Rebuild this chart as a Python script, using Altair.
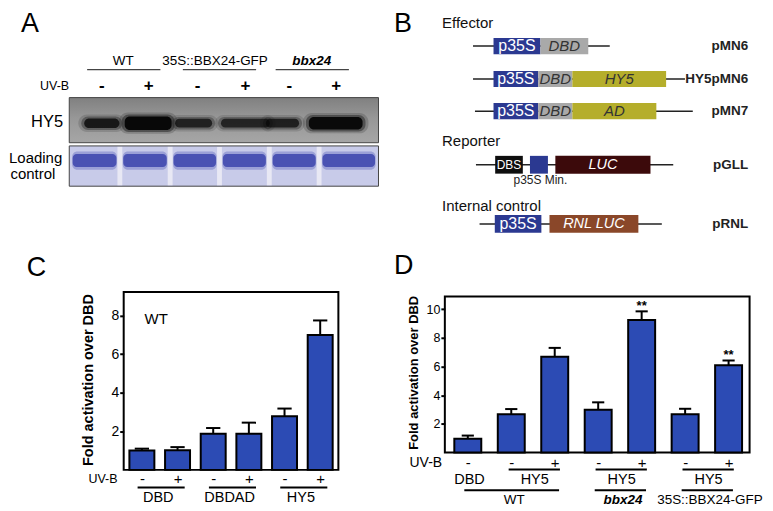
import altair as alt
import pandas as pd

FONT = "Liberation Sans"
SX = 757 / 773
SY = 495 / 511

# ===================== DATA =====================
# Panel A: western blot
blot_genotypes = ["WT", "35S::BBX24-GFP", "bbx24"]
blot_uvb = ["-", "+", "-", "+", "-", "+"]
blot_hy5_signal = [0.80, 1.00, 0.72, 0.70, 0.74, 0.97]
blot_row_labels = ["HY5", "Loading", "control"]

# Panel B: constructs
b_sections = ["Effector", "Reporter", "Internal control"]
b_plasmids = ["pMN6", "HY5pMN6", "pMN7", "pGLL", "pRNL"]
b_segments = [["p35S", "DBD"], ["p35S", "DBD", "HY5"], ["p35S", "DBD", "AD"],
              ["DBS", "", "LUC"], ["p35S", "RNL LUC"]]
b_note = "p35S Min."

# Panel C
c_effector = ["DBD", "DBD", "DBDAD", "DBDAD", "HY5", "HY5"]
c_uvb = ["-", "+", "-", "+", "-", "+"]
c_values = [1.00, 1.02, 1.87, 1.87, 2.78, 7.00]
c_errors = [0.10, 0.16, 0.30, 0.58, 0.40, 0.75]
c_note = "WT"

# Panel D
d_genotype = ["WT", "WT", "WT", "bbx24", "bbx24", "35S::BBX24-GFP", "35S::BBX24-GFP"]
d_effector = ["DBD", "HY5", "HY5", "HY5", "HY5", "HY5", "HY5"]
d_uvb = ["-", "-", "+", "-", "+", "-", "+"]
d_values = [0.96, 2.67, 6.68, 2.98, 9.25, 2.67, 6.08]
d_errors = [0.22, 0.36, 0.62, 0.52, 0.60, 0.38, 0.34]
d_sig = ["", "", "", "", "**", "", "**"]

# ===================== LAYOUT (reference pixel units) =====================
A_W = 390
# C frame (ref px)
C_L, C_R, C_T, C_B = 116.7, 336.5, 288.3, 472.5
C_XDOM = [0.49, 6.51]
C_YTOP = 9.23
# D frame (ref px)
D_L, D_R, D_T, D_B = 444, 756, 293, 454.5
D_XDOM = [0.472, 7.483]
D_YTOP = 10.89
TOP_H = C_T  # top row ends where the bottom plot areas begin

# A
a_header_x = [117, 211, 310]
a_header_y = 51.7
a_header_lines = [(80, 155), (178, 253), (273, 348)]
a_lane_x = [95, 143, 193, 242, 287, 335]
a_blot_box = (61.7, 90, 378.3, 136.7)
a_band_x = [95, 142.5, 189, 242, 280, 334.5]
a_band_hw = [18, 24, 19, 25, 17, 27.5]
a_band_hh = [5.0, 7.0, 4.5, 4.5, 4.5, 6.5]
a_band_y = 116.5
a_load_box = (61.7, 140, 378.3, 181.7)
a_load_sep = [113.5, 165, 215.5, 266.5, 317.5]
a_load_band = (148.3, 161.7)
# B
b_section_y = [13.3, 135, 201.7]
b_row_y = [36.7, 70.7, 104.0, 159.5, 220.8]
b_row_hh = [8.3, 8.3, 8.3, 9.2, 9.2]
b_backbone = [(475, 615), (475, 692), (477, 700), (478, 680), (481.7, 668.3)]
b_seg_x = [[(496, 544), (544, 593)],
           [(496, 541.7), (541.7, 576.7), (576.7, 672.7)],
           [(496, 541.7), (541.7, 576.7), (576.7, 662.7)],
           [(497.7, 526), (533.3, 551.7), (559.3, 656.7)],
           [(497.3, 545), (553.3, 644.3)]]
seg_fill = {"p35S": "#2b3991", "DBD": "#a9a9a9", "HY5": "#b5ae2b", "AD": "#b5ae2b",
            "DBS": "#0e0e0e", "": "#2b3991", "LUC": "#3c0a0b", "RNL LUC": "#8a4729"}

BLUE = "#2c4bb4"


def sc(lo, hi, rev=False):
    return alt.Scale(domain=[lo, hi], nice=False, zero=False, reverse=rev)


def tl(df, xs, ys, xa=None, ya=None, **mk):
    return alt.Chart(df).mark_text(**mk).encode(
        x=alt.X("x:Q", scale=xs, axis=xa), y=alt.Y("y:Q", scale=ys, axis=ya), text="t:N")


def rl(df, xs, ys, xa=None, ya=None, **mk):
    return alt.Chart(df).mark_rule(**mk).encode(
        x=alt.X("x0:Q", scale=xs, axis=xa), x2="x1:Q", y=alt.Y("y:Q", scale=ys, axis=ya))


def rect(df, xs, ys, xa=None, ya=None, **mk):
    enc = dict(x=alt.X("x0:Q", scale=xs, axis=xa), x2="x1:Q",
               y=alt.Y("y0:Q", scale=ys, axis=ya), y2="y1:Q")
    if "fill" in df.columns:
        enc["color"] = alt.Color("fill:N", scale=None)
    if "op" in df.columns:
        enc["opacity"] = alt.Opacity("op:Q", scale=None)
    return alt.Chart(df).mark_rect(**mk).encode(**enc)


def band_df(grow_x, grow_y, op_factor):
    return pd.DataFrame({"x0": [c - w - grow_x for c, w in zip(a_band_x, a_band_hw)],
                         "x1": [c + w + grow_x for c, w in zip(a_band_x, a_band_hw)],
                         "y0": [a_band_y - h - grow_y for h in a_band_hh],
                         "y1": [a_band_y + h + grow_y for h in a_band_hh],
                         "op": [s * op_factor for s in blot_hy5_signal]})


# ===================== PANEL A =====================
axs, ays = sc(0, A_W), sc(0, TOP_H, True)
hdr = pd.DataFrame({"x": a_header_x, "y": [a_header_y] * 3, "t": blot_genotypes})
hdr_lines = pd.DataFrame({"x0": [a for a, b in a_header_lines], "x1": [b for a, b in a_header_lines],
                          "y": [61] * 3})
signs = pd.DataFrame({"x": a_lane_x, "y": [77.5] * 6, "t": blot_uvb})
blot = pd.DataFrame({"x0": [a_blot_box[0]], "x1": [a_blot_box[2]], "y0": [a_blot_box[1]], "y1": [a_blot_box[3]]})
load = pd.DataFrame({"x0": [a_load_box[0]], "x1": [a_load_box[2]], "y0": [a_load_box[1]], "y1": [a_load_box[3]]})
seps = pd.DataFrame({"x0": [s - 2.5 for s in a_load_sep], "x1": [s + 2.5 for s in a_load_sep],
                     "y0": [a_load_box[1] + 1] * 5, "y1": [a_load_box[3] - 1] * 5})
edges = [a_load_box[0]] + a_load_sep + [a_load_box[2]]
lbands = pd.DataFrame({"x0": [edges[i] + 3.5 for i in range(6)], "x1": [edges[i + 1] - 3.5 for i in range(6)],
                       "y0": [a_load_band[0]] * 6, "y1": [a_load_band[1]] * 6})
lhalo = pd.DataFrame({"x0": [edges[i] + 3 for i in range(6)], "x1": [edges[i + 1] - 3 for i in range(6)],
                      "y0": [a_load_band[0] - 2.5] * 6, "y1": [a_load_band[1] + 3] * 6})

gray_grad = alt.LinearGradient(gradient="linear", x1=0, x2=0, y1=0, y2=1,
                               stops=[alt.GradientStop(offset=0, color="#808080"),
                                      alt.GradientStop(offset=0.45, color="#979797"),
                                      alt.GradientStop(offset=1, color="#a6a6a6")])
panelA = alt.layer(
    tl(hdr.iloc[:2], axs, ays, fontSize=13.5),
    tl(hdr.iloc[2:], axs, ays, fontSize=13.5, fontWeight="bold", fontStyle="italic"),
    rl(hdr_lines, axs, ays, color="#444", strokeWidth=1.2),
    tl(pd.DataFrame({"x": [46.7], "y": [78], "t": ["UV-B"]}), axs, ays, fontSize=12.5),
    tl(signs, axs, ays, fontSize=17, fontWeight="bold"),
    rect(blot, axs, ays, fill=gray_grad, stroke="#444", strokeWidth=1),
    rect(band_df(6, 4, 0.22), axs, ays, color="#222", cornerRadius=9),
    rect(band_df(3, 2, 0.45), axs, ays, color="#151515", cornerRadius=7),
    rect(band_df(0, 0, 1.0), axs, ays, color="#080808", cornerRadius=5),
    tl(pd.DataFrame({"x": [39], "y": [115], "t": [blot_row_labels[0]]}), axs, ays, fontSize=16.5),
    rect(load, axs, ays, color="#c8cbe9", stroke="#444", strokeWidth=1),
    rect(seps, axs, ays, color="#e8e8f4"),
    rect(lhalo, axs, ays, color="#7d84cc", opacity=0.6, cornerRadius=5),
    rect(lbands, axs, ays, color="#4a52b3", cornerRadius=4),
    tl(pd.DataFrame({"x": [0, 1.5], "y": [157.3, 173.8], "t": blot_row_labels[1:]}), axs, ays,
       fontSize=15, align="left", baseline="alphabetic"),
    tl(pd.DataFrame({"x": [21.5, 28], "y": [22, 275], "t": ["A", "C"]}), axs, ays,
       fontSize=27, baseline="alphabetic"),
).properties(width=A_W * SX, height=TOP_H * SY)

# ===================== PANEL B =====================
bxs, bys = sc(A_W, 773), sc(0, TOP_H, True)
bb = pd.DataFrame({"x0": [a for a, b in b_backbone], "x1": [b for a, b in b_backbone], "y": b_row_y})
seg_rows = []
for r, (segs, xs_) in enumerate(zip(b_segments, b_seg_x)):
    for lab, (x0, x1) in zip(segs, xs_):
        seg_rows.append({"x0": x0, "x1": x1, "y0": b_row_y[r] - b_row_hh[r], "y1": b_row_y[r] + b_row_hh[r],
                         "fill": seg_fill[lab], "t": lab, "x": (x0 + x1) / 2, "y": b_row_y[r]})
segdf = pd.DataFrame(seg_rows)
white_plain = segdf[segdf.t.isin(["p35S"])]
white_small = segdf[segdf.t.isin(["DBS"])]
white_ital = segdf[segdf.t.isin(["LUC", "RNL LUC"])]
dark_ital = segdf[segdf.t.isin(["DBD", "HY5", "AD"])]
plas = pd.DataFrame({"x": [756.7] * 5, "y": b_row_y, "t": b_plasmids})
secs = pd.DataFrame({"x": [443.3] * 3, "y": b_section_y, "t": b_sections})

panelB = alt.layer(
    rl(bb, bxs, bys, color="#222", strokeWidth=1.5),
    rect(segdf[["x0", "x1", "y0", "y1", "fill"]], bxs, bys),
    tl(white_plain[["x", "y", "t"]], bxs, bys, fontSize=16, color="white"),
    tl(white_small[["x", "y", "t"]], bxs, bys, fontSize=12, color="white"),
    tl(white_ital[["x", "y", "t"]], bxs, bys, fontSize=14.5, color="white", fontStyle="italic"),
    tl(dark_ital[["x", "y", "t"]], bxs, bys, fontSize=15, color="#333", fontStyle="italic"),
    tl(plas, bxs, bys, fontSize=13.5, fontWeight="bold", color="#222", align="right"),
    tl(secs, bxs, bys, fontSize=15, align="left", color="#111"),
    tl(pd.DataFrame({"x": [544], "y": [175.5], "t": [b_note]}), bxs, bys, fontSize=12, color="#222"),
    tl(pd.DataFrame({"x": [403.3, 404], "y": [22, 273], "t": ["B", "D"]}), bxs, bys,
       fontSize=27, baseline="alphabetic"),
).properties(width=(773 - A_W) * SX, height=TOP_H * SY)


# ===================== BAR PANELS =====================
def groups(labels):
    out, start = [], 0
    for i in range(1, len(labels) + 1):
        if i == len(labels) or labels[i] != labels[start]:
            out.append((start + 1, i, labels[start]))
            start = i
    return out


def bar_panel(values, errors, uvb, hw, cap, xdom, ymax_frame, ymax_plot, yticks, frame, title_fs, tick_fs,
              uv_fs, uv_x, uv_y, title_x, title_y):
    L, R, T, B = frame
    W, H = (R - L) * SX, (B - C_T) * SY
    n = len(values)
    pos = list(range(1, n + 1))
    df = pd.DataFrame({"pos": pos, "val": values, "err": errors})
    df["x0"] = df.pos - hw
    df["x1"] = df.pos + hw
    df["top"] = df.val + df.err
    df["cl"] = df.pos - cap
    df["cr"] = df.pos + cap
    df["base"] = 0.0
    xs, ys = sc(*xdom), sc(0, ymax_plot)
    lab_expr = "[" + ",".join("'%s'" % u for u in uvb) + "][datum.value - 1]"
    xa = alt.Axis(values=pos, labelExpr=lab_expr, title="UV-B", grid=False, domain=False, ticks=False,
                  tickSize=0, labelPadding=uv_y, labelBaseline="middle", labelFontSize=15, labelAngle=0,
                  labelFlush=False, labelOverlap=False, labelColor="black",
                  titleX=uv_x, titleY=uv_y, titleAlign="center", titleBaseline="middle",
                  titleFontWeight="normal", titleFontSize=uv_fs, titleColor="black")
    ya = alt.Axis(values=yticks, title="Fold activation over DBD", grid=False, domain=False,
                  tickSize=4, tickWidth=2, tickColor="black", labelFontSize=tick_fs, labelPadding=1,
                  labelColor="black", titleFontSize=title_fs, titleFontWeight="bold", titleColor="black",
                  titleAngle=270, titleX=title_x, titleY=title_y, titleAlign="center", titleBaseline="middle")
    frame_df = pd.DataFrame({"x0": [xdom[0]], "x1": [xdom[1]], "y0": [0.0], "y1": [ymax_frame]})
    frm = rect(frame_df, xs, ys, xa, ya, fill="white", fillOpacity=0, stroke="black", strokeWidth=2)
    bars = alt.Chart(df).mark_rect(fill=BLUE, stroke="black", strokeWidth=2).encode(
        x=alt.X("x0:Q", scale=xs, axis=xa), x2="x1:Q", y=alt.Y("val:Q", scale=ys, axis=ya), y2="base:Q")
    err = alt.Chart(df).mark_rule(color="black", strokeWidth=2).encode(
        x=alt.X("pos:Q", scale=xs, axis=xa), y=alt.Y("val:Q", scale=ys, axis=ya), y2="top:Q")
    caps = alt.Chart(df).mark_rule(color="black", strokeWidth=2).encode(
        x=alt.X("cl:Q", scale=xs, axis=xa), x2="cr:Q", y=alt.Y("top:Q", scale=ys, axis=ya))
    return df, xs, ys, xa, ya, [frm, err, bars, caps], W, H


# ---- C ----
c_pxu = (C_B - C_T) / C_YTOP
c_step = (C_R - C_L) / (C_XDOM[1] - C_XDOM[0])
dfC, cxs, cys, cxa, cya, cl, CW, CH = bar_panel(
    c_values, c_errors, c_uvb, 0.35, 0.2, C_XDOM, C_YTOP, C_YTOP, [2, 4, 6, 8], (C_L, C_R, C_T, C_B),
    14.5, 14, 12.5, (95 - C_L) * SX, (481.7 - C_B) * SY, -35.7 * SX, (379 - C_T) * SY)
cg = groups(c_effector)
c_lines = pd.DataFrame({"x0": [a - 0.12 for a, b, _ in cg], "x1": [b + 0.2 for a, b, _ in cg],
                        "y": [(C_B - 490.7) / c_pxu] * len(cg)})
c_glab = pd.DataFrame({"x": [(a + b) / 2 - 0.04 for a, b, _ in cg], "y": [(C_B - 501.7) / c_pxu] * len(cg),
                       "t": [g for _, _, g in cg]})
panelC = alt.layer(
    *cl,
    rl(c_lines, cxs, cys, cxa, cya, color="black", strokeWidth=2),
    tl(c_glab, cxs, cys, cxa, cya, fontSize=14.5),
    tl(pd.DataFrame({"x": [C_XDOM[0] + (150 - C_L) / c_step], "y": [(C_B - 316.7) / c_pxu], "t": [c_note]}),
       cxs, cys, cxa, cya, fontSize=15),
).properties(width=CW, height=CH)

# ---- D ----
d_pxu = (D_B - D_T) / D_YTOP
d_step = (D_R - D_L) / (D_XDOM[1] - D_XDOM[0])
D_YPLOT = (D_B - C_T) / d_pxu
dfD, dxs, dys, dxa, dya, dl, DW, DH = bar_panel(
    d_values, d_errors, d_uvb, 0.31, 0.14, D_XDOM, D_YTOP, D_YPLOT, [2, 4, 6, 8, 10], (D_L, D_R, D_T, D_B),
    13, 12.5, 14, (424 - D_L) * SX, (465 - D_B) * SY, -32.5 * SX, (371.5 - C_T) * SY)
eg = groups([e + "|" + g for e, g in zip(d_effector, d_genotype)])
row1 = [(a, b) for a, b, _ in eg if b > a]
d_l1 = pd.DataFrame({"x0": [a - 0.06 for a, b in row1], "x1": [b + 0.12 for a, b in row1],
                     "y": [(D_B - 472) / d_pxu] * len(row1)})
d_elab = pd.DataFrame({"x": [(a + b) / 2 + 0.04 for a, b, _ in eg], "y": [(D_B - 483.3) / d_pxu] * len(eg),
                       "t": [g.split("|")[0] for _, _, g in eg]})
gg = groups(d_genotype)
d_l2 = pd.DataFrame({"x0": [a - 0.08 for a, b, _ in gg], "x1": [b + 0.1 for a, b, _ in gg],
                     "y": [(D_B - 493.5) / d_pxu] * len(gg)})
d_glab = pd.DataFrame({"x": [(a + b) / 2 + 0.07 for a, b, _ in gg], "y": [(D_B - 503.5) / d_pxu] * len(gg),
                       "t": [g for _, _, g in gg]})
sig = dfD[[s != "" for s in d_sig]].copy()
sig["x"] = sig.pos
sig["y"] = sig.top
sig["t"] = [s for s in d_sig if s]
panelD = alt.layer(
    *dl,
    tl(sig[["x", "y", "t"]], dxs, dys, dxa, dya, fontSize=13, fontWeight="bold",
       baseline="alphabetic", dy=-1),
    rl(d_l1, dxs, dys, dxa, dya, color="black", strokeWidth=2),
    rl(d_l2, dxs, dys, dxa, dya, color="black", strokeWidth=2),
    tl(d_elab, dxs, dys, dxa, dya, fontSize=14.5),
    tl(d_glab[d_glab.t != "bbx24"], dxs, dys, dxa, dya, fontSize=13.5),
    tl(d_glab[d_glab.t == "bbx24"], dxs, dys, dxa, dya, fontSize=13.5, fontWeight="bold", fontStyle="italic"),
).properties(width=DW, height=DH)


def spacer(w, h):
    return alt.Chart(pd.DataFrame({"v": [0.5]})).mark_point(opacity=0).encode(
        x=alt.X("v:Q", axis=None, scale=sc(0, 1)), y=alt.Y("v:Q", axis=None, scale=sc(0, 1))
    ).properties(width=w, height=h)


top = alt.hconcat(panelA, panelB, spacing=0, bounds="flush")
bottom = alt.hconcat(
    spacer(C_L * SX, 10),
    panelC,
    spacer((D_L - C_R) * SX, 10),
    panelD,
    spacing=0, bounds="flush")

chart = alt.vconcat(top, bottom, spacing=0).properties(padding=0).configure(
    font=FONT).configure_view(stroke="transparent").configure_axis(labelFont=FONT, titleFont=FONT)

chart.save("out.html", embed_options={"renderer": "svg", "actions": False})
